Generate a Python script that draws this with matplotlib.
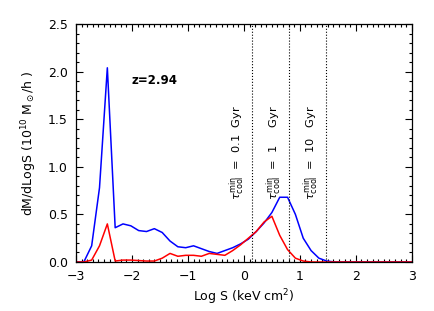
import numpy as np
import matplotlib.pyplot as plt
from matplotlib.ticker import MultipleLocator

# log S bins (keV cm^2)
logS = [-3.00, -2.86, -2.72, -2.58, -2.44, -2.30, -2.16, -2.02, -1.88, -1.74,
        -1.60, -1.46, -1.32, -1.18, -1.04, -0.90, -0.76, -0.62, -0.48, -0.34,
        -0.20, -0.06, 0.08, 0.22, 0.36, 0.50, 0.64, 0.78, 0.92, 1.06,
        1.20, 1.34, 1.48, 1.62, 1.76, 2.00, 2.50, 3.00]

# all gas (blue) and gas below cooling threshold (red)
dm_all = [0.0, 0.0, 0.17, 0.78, 2.04, 0.36, 0.40, 0.38, 0.33, 0.32,
          0.35, 0.31, 0.22, 0.16, 0.15, 0.17, 0.14, 0.11, 0.09, 0.12,
          0.15, 0.19, 0.24, 0.32, 0.41, 0.52, 0.68, 0.68, 0.50, 0.25,
          0.12, 0.04, 0.01, 0.0, 0.0, 0.0, 0.0, 0.0]
dm_cool = [0.0, 0.0, 0.02, 0.17, 0.40, 0.01, 0.02, 0.02, 0.015, 0.01,
           0.01, 0.04, 0.09, 0.06, 0.07, 0.07, 0.06, 0.09, 0.08, 0.07,
           0.12, 0.18, 0.25, 0.32, 0.42, 0.48, 0.28, 0.13, 0.04, 0.01,
           0.0, 0.0, 0.0, 0.0, 0.0, 0.0, 0.0, 0.0]

# cooling time thresholds
tcool_x = [0.15, 0.80, 1.46]
tcool_lab = ['0.1  Gyr', '1     Gyr', '10   Gyr']

plt.rcParams['font.family'] = 'DejaVu Sans'
plt.rcParams['font.size'] = 8

fig = plt.figure(figsize=(4.35, 3.11), dpi=100)
ax = fig.add_axes([0.1747, 0.1576, 0.772, 0.7652])

ax.plot(logS, dm_all, color='#0000ff', lw=1.1)
ax.plot(logS, dm_cool, color='#ff0000', lw=1.1)

for xv, lab in zip(tcool_x, tcool_lab):
    ax.axvline(xv, color='black', ls=':', lw=0.8)
    ax.text(xv - 0.09, 1.15, r'$\tau_{\rm cool}^{\rm min}$  =  ' + lab,
            rotation=90, ha='right', va='center', fontsize=8.2)

ax.text(-2.0, 1.91, 'z=2.94', fontsize=8.5, fontweight='bold', va='center')

ax.set_xlim(-3, 3)
ax.set_ylim(0, 2.5)
ax.xaxis.set_major_locator(MultipleLocator(1))
ax.xaxis.set_minor_locator(MultipleLocator(0.1))
ax.yaxis.set_major_locator(MultipleLocator(0.5))
ax.yaxis.set_minor_locator(MultipleLocator(0.1))
ax.tick_params(which='both', direction='in', top=True, right=True, width=0.8)
ax.tick_params(which='major', length=5, labelsize=9, pad=6)
ax.tick_params(which='minor', length=2.5)
for s in ax.spines.values():
    s.set_linewidth(0.9)

ax.set_xlabel('Log S (keV cm$^2$)', fontsize=9, labelpad=3)
ax.set_ylabel(r'dM/dLogS (10$^{10}$ M$_\odot$/h )', fontsize=9, labelpad=6)

fig.savefig('out.png', dpi=100)
